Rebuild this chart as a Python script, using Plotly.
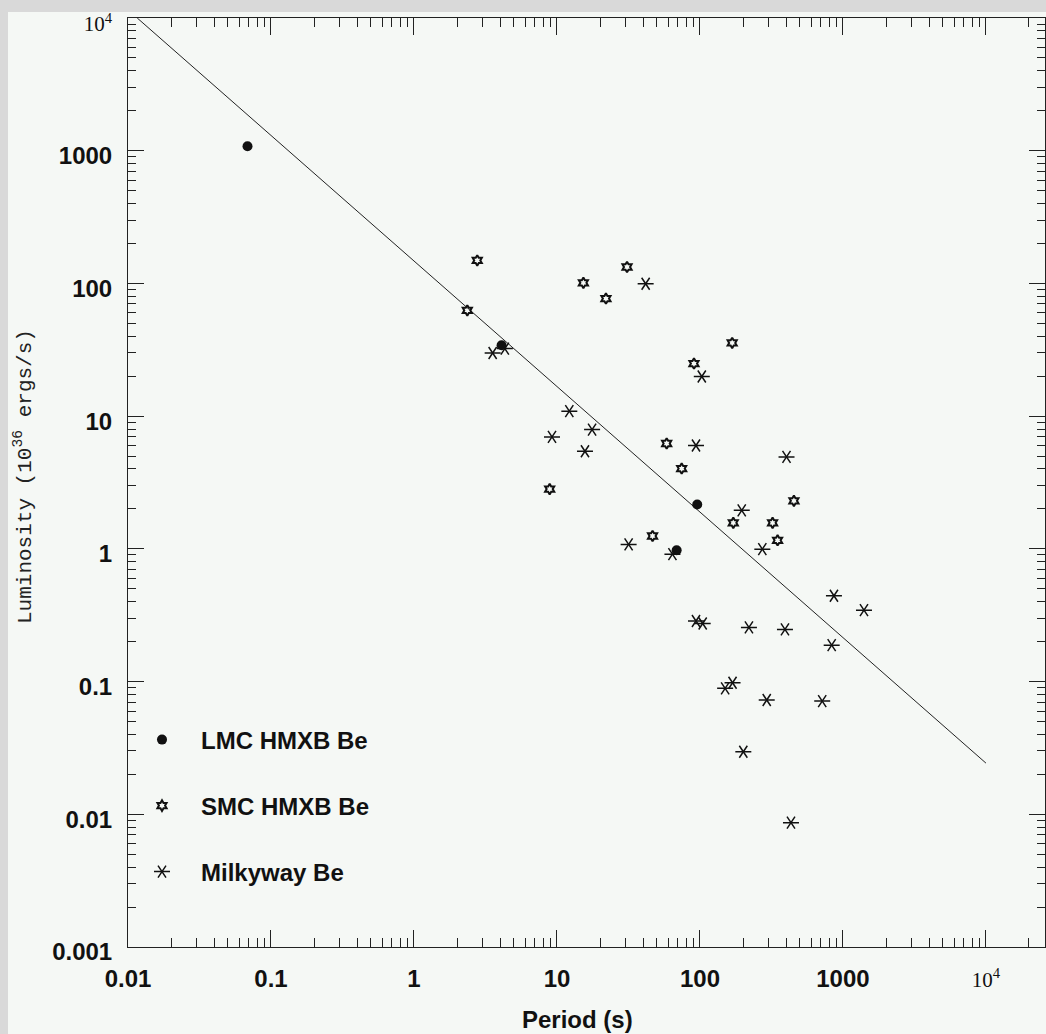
import plotly.graph_objects as go

# ---------------- data ----------------
lmc_period = [0.0685, 4.1, 95.7, 68.7]
lmc_lum = [1080, 34.2, 2.16, 0.977]

smc_period = [2.77, 2.36, 15.3, 22.0, 30.9, 58.5, 168, 90.8, 8.89, 74.5,
              454, 171, 322, 349, 46.6]
smc_lum = [149, 62.6, 101, 76.9, 133, 6.22, 35.6, 24.9, 2.82, 4.03,
           2.30, 1.57, 1.57, 1.16, 1.25]

mw_period = [41.7, 3.55, 4.32, 12.2, 17.6, 9.23, 15.7, 103, 93.8, 403,
             196, 273, 31.7, 64.2, 865, 1403, 834, 93.8, 104.5, 220,
             393, 150, 169, 293, 716, 201, 433]
mw_lum = [99.5, 29.9, 32.3, 10.9, 7.92, 6.97, 5.44, 19.9, 6.01, 4.93,
          1.95, 0.995, 1.08, 0.912, 0.443, 0.345, 0.188, 0.286, 0.274, 0.256,
          0.247, 0.0889, 0.098, 0.0726, 0.0713, 0.0296, 0.00865]

fit_period = [0.0116, 10000]
fit_lum = [10000, 0.0243]

sup4 = '<span style="font-weight:normal;font-family:Liberation Serif;font-size:21px">10<sup>4</sup></span>'
x_tickvals = [0.01, 0.1, 1, 10, 100, 1000, 10000]
x_ticktext = ["0.01", "0.1", "1", "10", "100", "1000", sup4]
y_tickvals = [0.001, 0.01, 0.1, 1, 10, 100, 1000, 10000]
y_ticktext = ["0.001", "0.01", "0.1", "1", "10", "100", "1000", sup4]

# ---------------- layout geometry ----------------
W, H = 1046, 1034
ML, MR, MT, MB = 128, 1, 18, 87
PW, PH = W - ML - MR, H - MT - MB

def px_x(px):
    return (px - ML) / PW

def px_y(py):
    return (H - MB - py) / PH

BG = "#f5f8f5"
EDGE = "#d9d9d9"
INK = "#111111"

fig = go.Figure()

fig.add_trace(go.Scatter(x=fit_period, y=fit_lum, mode="lines",
                         line=dict(color="#222222", width=1), showlegend=False,
                         hoverinfo="skip"))

fig.add_trace(go.Scatter(x=lmc_period, y=lmc_lum, mode="markers", name="LMC HMXB Be",
                         marker=dict(symbol="circle", size=10, color=INK,
                                     line=dict(width=0)),
                         legend="legend"))
fig.add_trace(go.Scatter(x=smc_period, y=smc_lum, mode="markers", name="SMC HMXB Be",
                         marker=dict(symbol="hexagram-open", size=8, color=INK,
                                     line=dict(width=2, color=INK)),
                         legend="legend2"))
fig.add_trace(go.Scatter(x=mw_period, y=mw_lum, mode="markers", name="Milkyway Be",
                         marker=dict(symbol="y-right-open", size=10, color=INK,
                                     line=dict(width=1.5, color=INK)),
                         legend="legend3"))
fig.add_trace(go.Scatter(x=mw_period, y=mw_lum, mode="markers", name="Milkyway Be",
                         marker=dict(symbol="y-left-open", size=10, color=INK,
                                     line=dict(width=1.5, color=INK)),
                         legend="legend4"))

leg_font = dict(family="Liberation Sans", size=24, color=INK, weight="bold")
leg_common = dict(xanchor="left", yanchor="middle", bgcolor="rgba(0,0,0,0)",
                  borderwidth=0, itemwidth=68, font=leg_font)
LEG_X = px_x(123)

axis_common = dict(type="log", showgrid=False, zeroline=False,
                   showline=True, linecolor="#222222", linewidth=1,
                   mirror="ticks", ticks="inside", tickcolor="#222222",
                   tickwidth=1, tickmode="array",
                   tickfont=dict(family="Liberation Sans", size=24, color=INK,
                                 weight="bold"))

fig.update_layout(
    width=W, height=H,
    margin=dict(l=ML, r=MR, t=MT, b=MB, pad=0),
    paper_bgcolor=BG, plot_bgcolor=BG,
    xaxis=dict(axis_common, range=[-2, 4.413], tickvals=x_tickvals,
               ticktext=x_ticktext, ticklen=17, ticklabelstandoff=10,
               minor=dict(ticks="inside", ticklen=9, dtick="D1",
                          tickcolor="#222222", tickwidth=1, showgrid=False)),
    yaxis=dict(axis_common, range=[-3, 4], tickvals=y_tickvals,
               ticktext=y_ticktext, ticklen=16, ticklabelstandoff=10,
               ticklabelshift=5,
               minor=dict(ticks="inside", ticklen=8, dtick="D1",
                          tickcolor="#222222", tickwidth=1, showgrid=False)),
    legend=dict(leg_common, x=LEG_X, y=px_y(740)),
    legend2=dict(leg_common, x=LEG_X, y=px_y(806)),
    legend3=dict(leg_common, x=LEG_X, y=px_y(872)),
    legend4=dict(leg_common, x=LEG_X, y=px_y(872),
                 font=dict(family="Liberation Sans", size=24,
                           color="rgba(0,0,0,0)", weight="bold")),
    annotations=[
        dict(text="Luminosity (10<sup>36</sup> ergs/s)", xref="paper", yref="paper",
             x=px_x(24), y=px_y(477), xanchor="center", yanchor="middle",
             textangle=-90, showarrow=False,
             font=dict(family="Liberation Mono", size=21, color="#222222")),
        dict(text="Period (s)", xref="paper", yref="paper",
             x=px_x(577), y=px_y(1019), xanchor="center", yanchor="middle",
             showarrow=False,
             font=dict(family="Liberation Sans", size=24, color=INK, weight="bold")),
    ],
    shapes=[
        dict(type="rect", xref="paper", yref="paper", layer="below",
             x0=px_x(0), x1=px_x(W), y0=px_y(12), y1=px_y(0),
             fillcolor=EDGE, line=dict(width=0)),
        dict(type="rect", xref="paper", yref="paper", layer="below",
             x0=px_x(0), x1=px_x(8), y0=px_y(H), y1=px_y(0),
             fillcolor=EDGE, line=dict(width=0)),
    ],
)

fig.write_html("out.html")
